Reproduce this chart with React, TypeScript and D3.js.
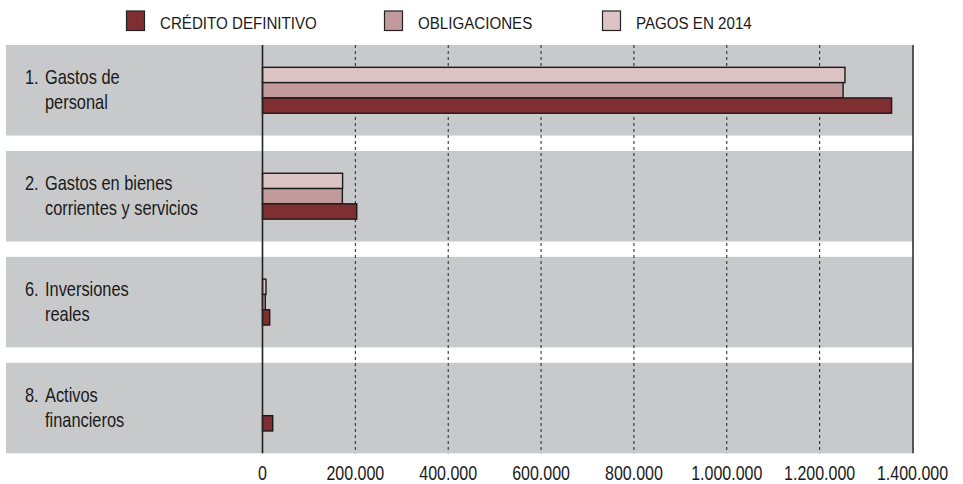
import React from "react";
import * as d3 from "d3";

const categories = ["1. Gastos de|personal", "2. Gastos en bienes|corrientes y servicios", "6. Inversiones|reales", "8. Activos|financieros"];
const seriesNames = ["CRÉDITO DEFINITIVO", "OBLIGACIONES", "PAGOS EN 2014"];
const credito = [1355000, 203000, 15500, 22000];
const obligaciones = [1250500, 172000, 6000, 0];
const pagos = [1254500, 172500, 7500, 0];
const tickValues = [0, 200000, 400000, 600000, 800000, 1000000, 1200000, 1400000];
const colors = ["#7f2f32", "#c29a9b", "#dcc3c4"];

const W = 963;
const H = 484;
const FONT = "'Liberation Sans', Arial, sans-serif";

function T(props: { x: number; y: number; size: number; sx: number; anchor?: string; children: React.ReactNode }) {
  return (
    <text
      transform={`translate(${props.x},${props.y}) scale(${props.sx},1)`}
      fontSize={props.size}
      textAnchor={props.anchor || "start"}
      fill="#1a1a1a"
    >
      {props.children}
    </text>
  );
}

export default function App() {
  const x = d3.scaleLinear().domain([0, 1400000]).range([262.5, 912.5]);
  const y = d3.scaleBand<number>().domain(d3.range(categories.length)).range([45, 453.3]).paddingInner(0.145).paddingOuter(0);
  const barH = 15.3;
  const series = [pagos, obligaciones, credito];
  const seriesColors = [colors[2], colors[1], colors[0]];
  const fmt = (v: number) => d3.format(",")(v).replace(/,/g, ".");
  const legendX = [126, 384, 602];

  return (
    <svg width={W} height={H} style={{ position: "absolute", left: 0, top: 0, display: "block" }} fontFamily={FONT}>
      <rect x={0} y={0} width={W} height={H} fill="#ffffff" />
      {/* legend */}
      {seriesNames.map((n, i) => (
        <g key={n}>
          <rect x={legendX[i] + 0.5} y={11} width={18} height={19.5} fill={colors[i]} stroke="#222" strokeWidth={1.2} />
          <T x={legendX[i] + 34} y={28.5} size={17.2} sx={0.88}>{n}</T>
        </g>
      ))}
      {/* bands */}
      {categories.map((c, i) => (
        <rect key={c} x={6} y={y(i)!} width={906.5} height={y.bandwidth()} fill="#c8c9cb" />
      ))}
      {/* grid */}
      {tickValues.slice(1, -1).map((t) => (
        <line key={t} x1={x(t)} x2={x(t)} y1={45} y2={453.3} stroke="#222" strokeWidth={1} strokeDasharray="3,3" />
      ))}
      <line x1={x(1400000) + 0.5} x2={x(1400000) + 0.5} y1={45} y2={453.3} stroke="#222" strokeWidth={1.5} />
      {/* bars */}
      {categories.map((c, i) => {
        const cy = y(i)! + y.bandwidth() / 2;
        const top = cy - (barH * 3) / 2;
        return (
          <g key={c}>
            {series.map((s, j) =>
              s[i] > 0 ? (
                <rect key={j} x={x(0)} y={top + j * barH} width={x(s[i]) - x(0)} height={barH} fill={seriesColors[j]} stroke="#1a1a1a" strokeWidth={1.4} />
              ) : null
            )}
          </g>
        );
      })}
      <line x1={x(0)} x2={x(0)} y1={45} y2={453.3} stroke="#222" strokeWidth={1.6} />
      {/* category labels */}
      {categories.map((c, i) => {
        const cy = y(i)! + y.bandwidth() / 2;
        const [l1, l2] = c.split("|");
        const m = l1.match(/^(\d+\.)\s(.*)$/)!;
        return (
          <g key={c}>
            <T x={25} y={cy - 6} size={20.5} sx={0.8}>{m[1]}</T>
            <T x={45} y={cy - 6} size={20.5} sx={0.8}>{m[2]}</T>
            <T x={45} y={cy + 19} size={20.5} sx={0.8}>{l2}</T>
          </g>
        );
      })}
      {/* tick labels */}
      {tickValues.map((t) => (
        <T key={t} x={x(t)} y={480} size={20} sx={0.8} anchor="middle">{fmt(t)}</T>
      ))}
    </svg>
  );
}
